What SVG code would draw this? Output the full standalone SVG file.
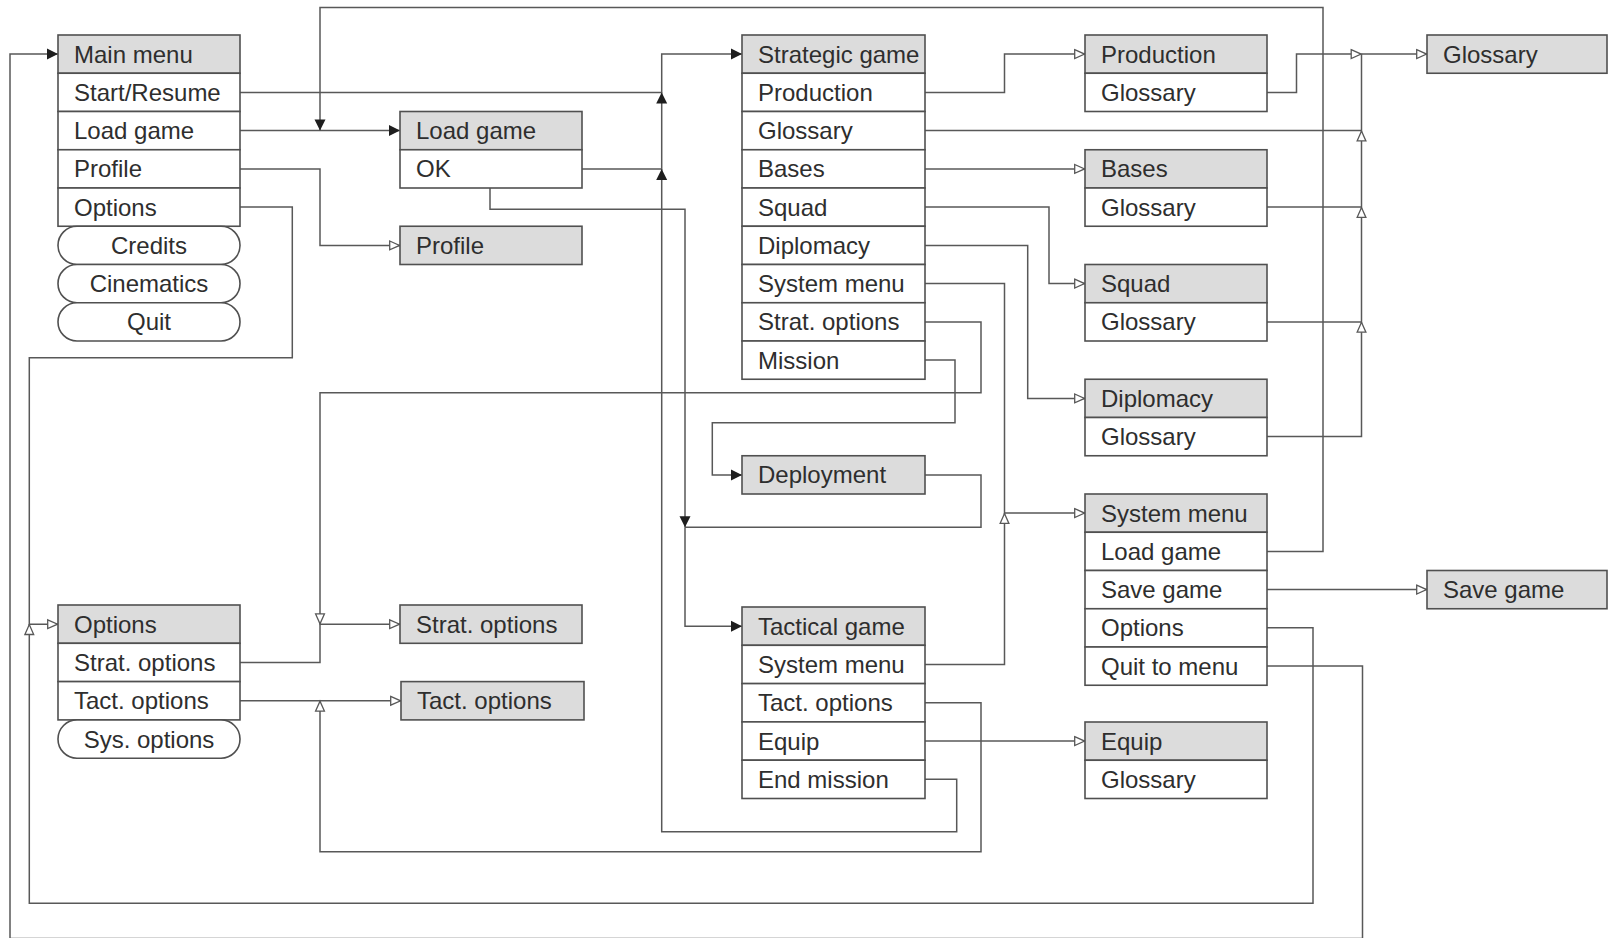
<svg xmlns="http://www.w3.org/2000/svg" width="1610" height="938" viewBox="0 0 1610 938">
<style>
  .bx { fill: #ffffff; stroke: #505050; stroke-width: 1.6; }
  .hd { fill: #dcdcdc; stroke: #505050; stroke-width: 1.6; }
  .pl { fill: #ffffff; stroke: #505050; stroke-width: 1.6; }
  .t { font-family: "Liberation Sans", Arial, sans-serif; font-size: 24px; fill: #2e2e2e; }
  .tc { text-anchor: middle; }
  .c path { fill: none; stroke: #585858; stroke-width: 1.5; }
  .c .f { marker-end: url(#af); }
  .c .h { marker-end: url(#ah); }
</style>
<defs>
  <marker id="af" markerUnits="userSpaceOnUse" markerWidth="12" markerHeight="12" refX="11" refY="5.5" orient="auto" overflow="visible">
    <path d="M0,0 L11,5.5 L0,11 z" fill="#1e1e1e" stroke="none"/>
  </marker>
  <marker id="ah" markerUnits="userSpaceOnUse" markerWidth="12" markerHeight="12" refX="11" refY="5" orient="auto" overflow="visible">
    <path d="M0.7,0.6 L10.6,5 L0.7,9.4 z" fill="#ffffff" stroke="#585858" stroke-width="1.3"/>
  </marker>
</defs>
<rect width="1610" height="938" fill="#ffffff"/>

<g class="c" id="connectors">
  <path class="f" d="M240,92.4 H661.7 V54.1 H742"/>
  <path class="f" d="M582,168.9 H661.7 V92.4"/>
  <path class="f" d="M925,779.3 H956.7 V831.7 H661.7 V168.9"/>
  <path class="f" d="M240,130.6 H400"/>
  <path class="f" d="M1267,551.4 H1323 V7.5 H320 V130.6"/>
  <path class="h" d="M240,168.9 H320 V245.4 H400"/>
  <path class="h" d="M240,207.1 H292.3 V357.7 H29.3 V624.2 H58"/>
  <path class="h" d="M1267,627.8 H1313 V903.3 H29.3 V624.2"/>
  <path class="f" d="M1267,666 H1362.5 V938.6 H10 V54.1 H58"/>
  <path class="h" d="M925,92.4 H1004.5 V54.1 H1085"/>
  <path d="M925,130.6 H1361.5"/>
  <path d="M1267,207.1 H1361.5"/>
  <path d="M1267,321.9 H1361.5"/>
  <path class="h" d="M1267,436.6 H1361.5 V321.9"/>
  <path class="h" d="M1361.5,321.9 V207.1"/>
  <path class="h" d="M1361.5,207.1 V130.6"/>
  <path d="M1361.5,130.6 V54.1"/>
  <path class="h" d="M1267,92.4 H1296.5 V54.1 H1361.5"/>
  <path class="h" d="M1361.5,54.1 H1427"/>
  <path class="h" d="M925,168.9 H1085"/>
  <path class="h" d="M925,207.1 H1049 V283.6 H1085"/>
  <path class="h" d="M925,245.4 H1027.7 V398.4 H1085"/>
  <path class="h" d="M925,283.6 H1004.5 V513.1 H1085"/>
  <path class="h" d="M925,664.5 H1004.5 V513.1"/>
  <path class="h" d="M925,321.9 H981 V392.7 H320 V624.2"/>
  <path class="h" d="M240,662.5 H320 V624.2 H400"/>
  <path class="h" d="M240,700.8 H401"/>
  <path class="h" d="M925,702.7 H981 V851.7 H320 V700.8"/>
  <path class="f" d="M925,360.1 H955 V422.7 H712.3 V474.9 H742"/>
  <path d="M925,474.9 H981 V527.3 H685"/>
  <path class="f" d="M490,188 V209.3 H685 V527.3"/>
  <path class="f" d="M685,527.3 V626.2 H742"/>
  <path class="h" d="M1267,589.6 H1427"/>
  <path class="h" d="M925,741.1 H1085"/>
</g>

<g id="main-menu">
  <rect class="hd" x="58" y="35" width="182" height="38.25"/>
  <rect class="bx" x="58" y="73.25" width="182" height="38.25"/>
  <rect class="bx" x="58" y="111.5" width="182" height="38.25"/>
  <rect class="bx" x="58" y="149.75" width="182" height="38.25"/>
  <rect class="bx" x="58" y="188" width="182" height="38.25"/>
  <rect class="pl" x="58" y="226.25" width="182" height="38.25" rx="19" ry="19"/>
  <rect class="pl" x="58" y="264.5" width="182" height="38.25" rx="19" ry="19"/>
  <rect class="pl" x="58" y="302.75" width="182" height="38.25" rx="19" ry="19"/>
  <text class="t" x="74" y="62.5">Main menu</text>
  <text class="t" x="74" y="100.8">Start/Resume</text>
  <text class="t" x="74" y="139">Load game</text>
  <text class="t" x="74" y="177.3">Profile</text>
  <text class="t" x="74" y="215.5">Options</text>
  <text class="t tc" x="149" y="253.8">Credits</text>
  <text class="t tc" x="149" y="292">Cinematics</text>
  <text class="t tc" x="149" y="330.3">Quit</text>
</g>

<g id="load-game">
  <rect class="hd" x="400" y="111.5" width="182" height="38.25"/>
  <rect class="bx" x="400" y="149.75" width="182" height="38.25"/>
  <text class="t" x="416" y="139">Load game</text>
  <text class="t" x="416" y="177.3">OK</text>
</g>

<g id="profile">
  <rect class="hd" x="400" y="226.25" width="182" height="38.25"/>
  <text class="t" x="416" y="253.8">Profile</text>
</g>

<g id="strategic-game">
  <rect class="hd" x="742" y="35" width="183" height="38.25"/>
  <rect class="bx" x="742" y="73.25" width="183" height="38.25"/>
  <rect class="bx" x="742" y="111.5" width="183" height="38.25"/>
  <rect class="bx" x="742" y="149.75" width="183" height="38.25"/>
  <rect class="bx" x="742" y="188" width="183" height="38.25"/>
  <rect class="bx" x="742" y="226.25" width="183" height="38.25"/>
  <rect class="bx" x="742" y="264.5" width="183" height="38.25"/>
  <rect class="bx" x="742" y="302.75" width="183" height="38.25"/>
  <rect class="bx" x="742" y="341" width="183" height="38.25"/>
  <text class="t" x="758" y="62.5">Strategic game</text>
  <text class="t" x="758" y="100.8">Production</text>
  <text class="t" x="758" y="139">Glossary</text>
  <text class="t" x="758" y="177.3">Bases</text>
  <text class="t" x="758" y="215.5">Squad</text>
  <text class="t" x="758" y="253.8">Diplomacy</text>
  <text class="t" x="758" y="292">System menu</text>
  <text class="t" x="758" y="330.3">Strat. options</text>
  <text class="t" x="758" y="368.5">Mission</text>
</g>

<g id="deployment">
  <rect class="hd" x="742" y="455.75" width="183" height="38.25"/>
  <text class="t" x="758" y="483.3">Deployment</text>
</g>

<g id="tactical-game">
  <rect class="hd" x="742" y="607" width="183" height="38.3"/>
  <rect class="bx" x="742" y="645.3" width="183" height="38.3"/>
  <rect class="bx" x="742" y="683.6" width="183" height="38.3"/>
  <rect class="bx" x="742" y="721.9" width="183" height="38.3"/>
  <rect class="bx" x="742" y="760.2" width="183" height="38.3"/>
  <text class="t" x="758" y="634.6">Tactical game</text>
  <text class="t" x="758" y="672.9">System menu</text>
  <text class="t" x="758" y="711.2">Tact. options</text>
  <text class="t" x="758" y="749.5">Equip</text>
  <text class="t" x="758" y="787.8">End mission</text>
</g>

<g id="production">
  <rect class="hd" x="1085" y="35" width="182" height="38.25"/>
  <rect class="bx" x="1085" y="73.25" width="182" height="38.25"/>
  <text class="t" x="1101" y="62.5">Production</text>
  <text class="t" x="1101" y="100.8">Glossary</text>
</g>

<g id="bases">
  <rect class="hd" x="1085" y="149.75" width="182" height="38.25"/>
  <rect class="bx" x="1085" y="188" width="182" height="38.25"/>
  <text class="t" x="1101" y="177.3">Bases</text>
  <text class="t" x="1101" y="215.5">Glossary</text>
</g>

<g id="squad">
  <rect class="hd" x="1085" y="264.5" width="182" height="38.25"/>
  <rect class="bx" x="1085" y="302.75" width="182" height="38.25"/>
  <text class="t" x="1101" y="292">Squad</text>
  <text class="t" x="1101" y="330.3">Glossary</text>
</g>

<g id="diplomacy">
  <rect class="hd" x="1085" y="379.25" width="182" height="38.25"/>
  <rect class="bx" x="1085" y="417.5" width="182" height="38.25"/>
  <text class="t" x="1101" y="406.8">Diplomacy</text>
  <text class="t" x="1101" y="445">Glossary</text>
</g>

<g id="system-menu">
  <rect class="hd" x="1085" y="494" width="182" height="38.25"/>
  <rect class="bx" x="1085" y="532.25" width="182" height="38.25"/>
  <rect class="bx" x="1085" y="570.5" width="182" height="38.25"/>
  <rect class="bx" x="1085" y="608.75" width="182" height="38.25"/>
  <rect class="bx" x="1085" y="647" width="182" height="38.25"/>
  <text class="t" x="1101" y="521.5">System menu</text>
  <text class="t" x="1101" y="559.8">Load game</text>
  <text class="t" x="1101" y="598">Save game</text>
  <text class="t" x="1101" y="636.3">Options</text>
  <text class="t" x="1101" y="674.5">Quit to menu</text>
</g>

<g id="equip">
  <rect class="hd" x="1085" y="722" width="182" height="38.25"/>
  <rect class="bx" x="1085" y="760.25" width="182" height="38.25"/>
  <text class="t" x="1101" y="749.5">Equip</text>
  <text class="t" x="1101" y="787.8">Glossary</text>
</g>

<g id="glossary">
  <rect class="hd" x="1427" y="35" width="180" height="38.25"/>
  <text class="t" x="1443" y="62.5">Glossary</text>
</g>

<g id="save-game">
  <rect class="hd" x="1427" y="570.5" width="180" height="38.25"/>
  <text class="t" x="1443" y="598">Save game</text>
</g>

<g id="options">
  <rect class="hd" x="58" y="605" width="182" height="38.3"/>
  <rect class="bx" x="58" y="643.3" width="182" height="38.3"/>
  <rect class="bx" x="58" y="681.6" width="182" height="38.3"/>
  <rect class="pl" x="58" y="719.9" width="182" height="38.3" rx="19" ry="19"/>
  <text class="t" x="74" y="632.6">Options</text>
  <text class="t" x="74" y="670.9">Strat. options</text>
  <text class="t" x="74" y="709.2">Tact. options</text>
  <text class="t tc" x="149" y="747.5">Sys. options</text>
</g>

<g id="strat-options">
  <rect class="hd" x="400" y="605" width="182" height="38.3"/>
  <text class="t" x="416" y="632.6">Strat. options</text>
</g>

<g id="tact-options">
  <rect class="hd" x="401" y="681.6" width="183" height="38.3"/>
  <text class="t" x="417" y="709.2">Tact. options</text>
</g>
</svg>
